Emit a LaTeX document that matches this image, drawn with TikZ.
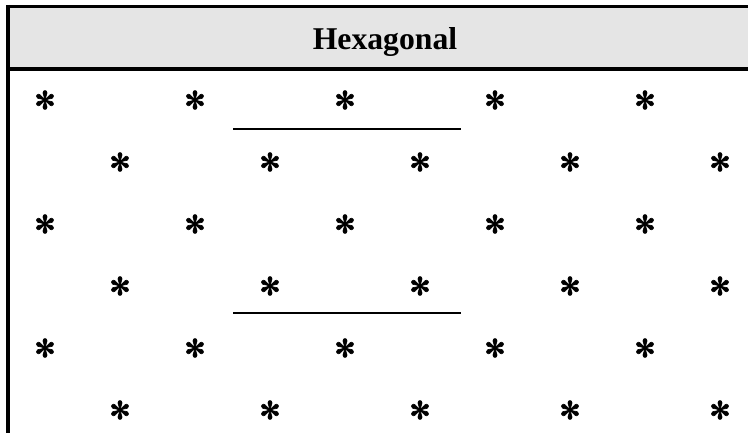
\documentclass[tikz,border=0pt]{standalone}
\usepackage{fontspec}
\setmainfont{Liberation Serif}
\newfontfamily\symfont[FakeBold=2.5]{DejaVu Sans}
\begin{document}
\begin{tikzpicture}[x=1pt,y=-1pt,
  star/.style={inner sep=0pt,font=\symfont\fontsize{25}{25}\selectfont},
  rule/.style={line width=2pt},
  frame/.style={line width=4pt}]
\useasboundingbox (0,0) rectangle (748,433);
\fill[fill={rgb,255:red,229;green,229;blue,229}] (8,8) rectangle (748,68.5);
\node[font=\bfseries\fontsize{31.7}{32}\selectfont,anchor=base] (title) at (385,50) {Hexagonal};
\draw[line width=3.4pt] (6,6.7) -- (748,6.7);
\draw[frame] (6,68.7) -- (748,68.7);
\draw[frame] (8,5) -- (8,433);
\foreach \r/\y in {1/100,3/224,5/348}{
  \foreach \c/\x in {1/45,2/195,3/345,4/495,5/645}{
    \node[star] (s\r\c) at (\x,\y) {✻};
  }
}
\foreach \r/\y in {2/162,4/286,6/410}{
  \foreach \c/\x in {1/120,2/270,3/420,4/570,5/720}{
    \node[star] (s\r\c) at (\x,\y) {✻};
  }
}
\coordinate (a1) at (233,128.7);
\coordinate (b1) at (461,128.7);
\coordinate (a2) at (233,312.5);
\coordinate (b2) at (461,312.5);
\draw[rule] (a1) -- (b1);
\draw[rule] (a2) -- (b2);
\end{tikzpicture}
\end{document}
